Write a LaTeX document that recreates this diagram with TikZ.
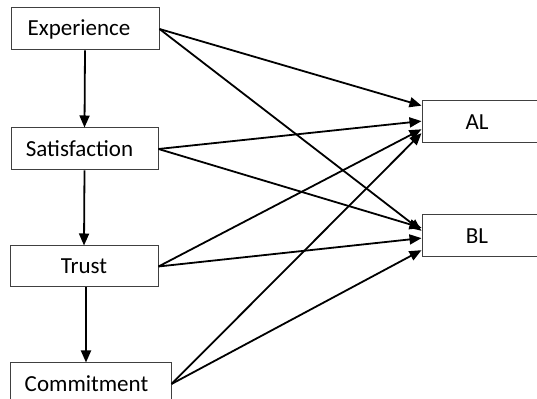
\documentclass[tikz,border=0pt]{standalone}
\usepackage{fontspec}
\setmainfont{Carlito}
\usetikzlibrary{arrows.meta,calc}

\begin{document}
\begin{tikzpicture}[x=0.5pt, y=-0.5pt,
  box/.style={draw=black!75, line width=0.5pt, inner sep=0pt, minimum height=21pt, align=center, font=\fontsize{11.5}{13}\selectfont},
  link/.style={-{Triangle[length=6pt,width=5pt]}, line width=0.9pt}]
  \useasboundingbox (0,0) rectangle (537,399);
  \clip (0,0) rectangle (537,399);

  % Antecedents
  \node[box, minimum width=74pt] (exp) at (85,29) {\hspace*{-6pt}Experience};
  \node[box, minimum width=73.5pt] (sat) at (84.5,149) {\hspace*{-5pt}Satisfaction};
  \node[box, minimum width=74pt, minimum height=20.5pt] (trust) at (84,266.5) {Trust};
  \node[box, minimum width=80.5pt] (com) at (90.5,384) {\hspace*{-4pt}Commitment};

  % Loyalty outcomes
  \node[box, minimum width=60pt] (al) at (482,122) {\hspace*{-5pt}AL};
  \node[box, minimum width=60pt] (bl) at (482,236) {\hspace*{-5pt}BL};

  % Chain down the left
  \coordinate (tc) at ($(trust.south)+(2,0)$);
  \draw[link] (exp.south) -- (sat.north);
  \draw[link] (sat.south) -- (trust.north);
  \draw[link] (tc) -- (tc |- com.north);

  % Paths to AL
  \draw[link] (exp.east) -- ($(al.north west)!0.12!(al.south west)$);
  \draw[link] (sat.east) -- ($(al.north west)!0.48!(al.south west)$);
  \draw[link] (trust.east) -- ($(al.north west)!0.67!(al.south west)$);
  \draw[link] (com.east) -- ($(al.north west)!0.76!(al.south west)$);

  % Paths to BL
  \draw[link] (exp.east) -- ($(bl.north west)!0.38!(bl.south west)$);
  \draw[link] (sat.east) -- ($(bl.north west)!0.31!(bl.south west)$);
  \draw[link] (trust.east) -- ($(bl.north west)!0.55!(bl.south west)$);
  \draw[link] (com.east) -- ($(bl.north west)!0.83!(bl.south west)$);
\end{tikzpicture}
\end{document}
